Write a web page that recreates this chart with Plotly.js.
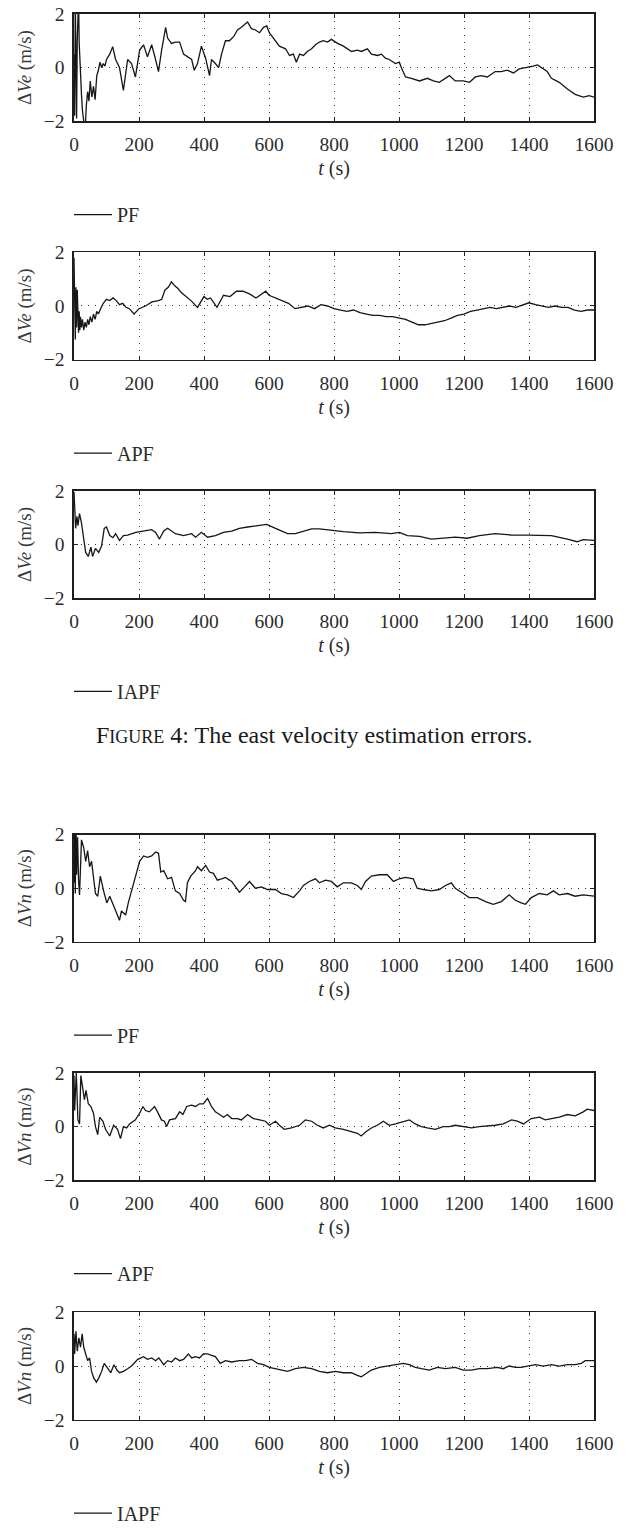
<!DOCTYPE html>
<html>
<head>
<meta charset="utf-8">
<script src="https://cdn.plot.ly/plotly-3.0.1.min.js"></script>
<style>html,body{margin:0;padding:0;background:#fff}</style>
</head>
<body>
<div id="chart" style="width:627px;height:1533px"></div>
<script>
// ---------- data ----------
const methodNames = ['PF', 'APF', 'IAPF'];
const xTicks = [0, 200, 400, 600, 800, 1000, 1200, 1400, 1600];
const yTicks = [-2, 0, 2];
const captionText = 'F<span style="font-size:18px">IGURE</span> 4: The east velocity estimation errors.';

// East velocity error, PF
const tEastPF = [0,2,4,6,8,10,12,14,16,18,20,23,26,30,34,38,42,46,50,55,60,65,70,75,80,85,90,95,100,110,119,128,140,152,165,177,189,202,214,226,239,251,260,269,282,288,300,312,325,337,349,362,370,380,392,405,417,423,435,445,454,466,478,491,503,515,534,546,558,571,583,593,601,620,632,651,663,675,684,694,706,718,731,743,755,767,780,792,811,829,854,872,884,903,915,934,946,958,970,989,1001,1007,1020,1038,1063,1087,1106,1124,1143,1155,1173,1198,1217,1235,1253,1272,1296,1315,1333,1352,1370,1395,1413,1426,1438,1456,1469,1493,1518,1542,1567,1585,1600];
const vEastPF = [0.5,-1.8,2.6,0.8,-1.9,1.0,2.6,2.6,0.9,0.2,-0.5,-1.0,-1.6,-2.4,-2.4,-1.4,-0.9,-1.25,-0.5,-1.1,-0.7,-1.2,-0.3,-0.1,0.2,0.0,0.15,0.05,0.3,0.5,0.78,0.3,0.0,-0.85,0.3,0.15,-0.35,0.65,0.85,0.4,0.85,0.3,-0.15,0.6,1.5,1.1,0.9,0.95,0.95,0.5,0.4,0.3,-0.1,0.15,0.8,0.35,-0.3,0.3,0.15,0.0,0.5,1.0,1.0,1.15,1.4,1.5,1.7,1.45,1.4,1.3,1.5,1.55,1.3,1.0,0.8,0.7,0.45,0.5,0.2,0.5,0.45,0.6,0.7,0.85,0.95,1.0,0.95,1.05,0.9,0.8,0.6,0.65,0.6,0.7,0.5,0.45,0.5,0.35,0.3,0.15,0.2,0.0,-0.35,-0.4,-0.5,-0.4,-0.5,-0.55,-0.4,-0.3,-0.5,-0.5,-0.55,-0.35,-0.3,-0.35,-0.15,-0.15,-0.1,-0.2,-0.05,0.0,0.05,0.1,0.0,-0.15,-0.4,-0.55,-0.8,-1.0,-1.1,-1.05,-1.1];

// East velocity error, APF
const tEastAPF = [0,2,4,6,8,10,12,14,16,18,20,23,26,30,34,38,42,46,50,55,60,65,70,75,80,90,100,110,120,130,140,150,160,170,185,200,220,240,260,270,280,290,300,310,320,330,340,360,380,400,410,420,440,460,480,500,520,540,560,580,590,600,620,640,660,680,700,720,740,760,780,800,820,840,860,880,900,920,940,960,980,1000,1020,1040,1060,1080,1100,1120,1140,1160,1180,1200,1220,1240,1260,1280,1300,1320,1340,1360,1380,1400,1420,1440,1460,1480,1500,1520,1540,1560,1580,1600];
const vEastAPF = [1.8,0.5,-1.25,0.7,-0.8,0.6,-0.5,-1.0,-0.2,-0.9,-0.4,-0.8,-0.5,-0.9,-0.6,-0.8,-0.5,-0.7,-0.4,-0.6,-0.3,-0.5,-0.2,-0.3,-0.15,0.1,0.25,0.2,0.3,0.2,0.05,0.1,-0.05,-0.1,-0.3,-0.1,0.0,0.15,0.2,0.25,0.6,0.7,0.9,0.75,0.65,0.5,0.4,0.2,-0.05,0.35,0.25,0.3,-0.05,0.4,0.35,0.55,0.55,0.45,0.3,0.45,0.55,0.4,0.3,0.2,0.1,-0.1,-0.05,0.0,-0.1,0.05,0.0,-0.1,-0.15,-0.2,-0.15,-0.25,-0.3,-0.35,-0.35,-0.4,-0.4,-0.45,-0.5,-0.6,-0.7,-0.7,-0.65,-0.6,-0.55,-0.45,-0.35,-0.3,-0.2,-0.15,-0.1,-0.05,-0.1,-0.05,0.0,-0.05,0.05,0.12,0.05,0.0,-0.05,0.0,-0.05,-0.05,-0.15,-0.2,-0.15,-0.15];

// East velocity error, IAPF
const tEastIAPF = [0,5,9,12,17,23,30,36,44,52,57,66,76,85,93,100,110,120,128,140,152,165,190,214,239,251,263,276,288,312,337,362,374,392,411,435,460,485,509,534,571,593,620,657,681,706,731,755,792,829,878,927,976,1001,1026,1063,1100,1124,1173,1210,1247,1296,1346,1395,1432,1469,1518,1548,1567,1600];
const vEastIAPF = [1.95,0.6,1.05,0.7,1.15,0.8,0.2,-0.3,-0.45,-0.1,-0.45,-0.15,-0.3,-0.05,0.6,0.65,0.33,0.25,0.4,0.15,0.33,0.35,0.45,0.5,0.55,0.45,0.2,0.5,0.6,0.4,0.33,0.4,0.27,0.45,0.27,0.33,0.45,0.5,0.6,0.65,0.7,0.75,0.6,0.4,0.4,0.5,0.58,0.58,0.52,0.48,0.43,0.45,0.4,0.45,0.33,0.3,0.2,0.23,0.27,0.23,0.33,0.4,0.35,0.35,0.35,0.33,0.2,0.1,0.18,0.15];

// North velocity error, PF
const tNorthPF = [0,2,4,6,8,11,14,17,23,30,36,42,48,54,60,66,73,81,91,101,110,122,134,140,146,159,167,177,189,202,214,226,239,251,260,267,276,288,300,312,325,337,343,349,359,374,380,392,405,417,429,441,454,466,485,497,509,521,540,558,577,595,620,638,657,675,694,706,724,743,755,774,792,810,829,853,872,884,897,915,940,964,983,1001,1020,1044,1056,1075,1100,1124,1143,1161,1173,1198,1216,1241,1266,1290,1315,1339,1358,1376,1389,1407,1432,1456,1475,1493,1518,1542,1567,1600];
const vNorthPF = [0.2,2.5,-0.2,2.5,0.5,1.9,0.3,-0.25,1.8,1.5,1.0,1.4,0.8,1.0,0.4,-0.2,-0.3,0.45,-0.1,-0.55,-0.3,-0.65,-1.0,-1.2,-0.85,-1.0,-0.55,-0.1,0.35,1.0,1.2,1.15,1.2,1.35,1.3,0.6,0.65,0.35,0.4,-0.1,-0.2,-0.45,-0.5,0.2,0.45,0.65,0.8,0.65,0.85,0.6,0.55,0.3,0.35,0.4,0.25,0.05,-0.15,0.0,0.25,0.0,0.05,-0.05,-0.05,-0.2,-0.25,-0.35,-0.1,0.1,0.25,0.35,0.2,0.3,0.25,0.05,0.2,0.2,0.1,-0.05,0.25,0.45,0.5,0.5,0.25,0.35,0.4,0.35,0.0,-0.05,-0.1,-0.05,0.1,0.2,0.0,-0.2,-0.35,-0.35,-0.5,-0.6,-0.5,-0.25,-0.45,-0.55,-0.6,-0.35,-0.2,-0.25,-0.1,-0.25,-0.2,-0.3,-0.25,-0.3];

// North velocity error, APF
const tNorthAPF = [0,2,7,12,17,21,26,32,37,44,52,60,66,73,79,89,97,110,122,134,143,152,162,171,189,202,212,220,232,248,257,269,278,285,294,312,325,335,347,362,374,386,398,411,423,435,448,460,472,485,503,515,534,552,571,589,601,620,632,647,669,694,712,731,749,767,786,804,829,853,872,884,897,915,933,952,970,989,1013,1032,1050,1069,1087,1112,1136,1155,1173,1198,1223,1247,1272,1296,1321,1346,1364,1383,1407,1432,1450,1469,1493,1518,1542,1567,1579,1600];
const vNorthAPF = [1.9,0.6,2.0,0.25,0.1,1.9,1.5,1.0,1.35,0.85,0.75,0.5,0.0,-0.3,0.35,0.2,-0.1,-0.35,0.05,-0.1,-0.45,0.0,-0.05,0.1,0.25,0.5,0.75,0.6,0.55,0.75,0.55,0.25,0.2,0.0,0.25,0.3,0.55,0.45,0.75,0.8,0.75,0.85,0.85,1.05,0.75,0.55,0.45,0.35,0.45,0.3,0.3,0.25,0.45,0.3,0.25,0.2,0.05,0.2,0.05,-0.1,-0.05,0.05,0.25,0.2,0.05,-0.05,0.05,-0.05,-0.1,-0.2,-0.25,-0.35,-0.2,-0.05,0.05,0.2,0.05,0.1,0.2,0.25,0.1,0.0,-0.05,-0.1,0.0,0.0,0.05,0.0,-0.05,0.0,0.02,0.05,0.1,0.25,0.2,0.1,0.3,0.35,0.25,0.3,0.35,0.45,0.4,0.55,0.65,0.6];

// North velocity error, IAPF
const tNorthIAPF = [0,2,6,10,15,20,25,30,36,42,48,54,61,69,76,85,93,103,113,123,132,140,152,165,177,196,214,226,239,251,261,276,288,300,312,325,337,352,362,374,386,398,411,423,435,450,466,485,509,528,546,565,583,601,620,638,657,681,706,731,755,780,804,829,853,872,884,897,915,940,964,989,1013,1032,1050,1069,1093,1118,1143,1173,1198,1223,1247,1272,1302,1321,1339,1358,1376,1395,1420,1444,1469,1493,1518,1542,1561,1573,1600];
const vNorthIAPF = [1.2,0.45,1.3,0.55,1.05,0.7,1.2,0.7,0.45,0.2,0.3,-0.2,-0.45,-0.6,-0.45,-0.2,0.1,-0.1,-0.25,0.05,-0.15,-0.25,-0.2,-0.1,0.0,0.25,0.35,0.25,0.3,0.2,0.3,0.05,0.2,0.15,0.3,0.2,0.25,0.45,0.3,0.35,0.3,0.45,0.45,0.4,0.35,0.1,0.2,0.15,0.2,0.2,0.25,0.1,0.05,-0.05,-0.1,-0.15,-0.2,-0.1,-0.05,-0.1,-0.2,-0.25,-0.2,-0.25,-0.25,-0.35,-0.4,-0.3,-0.15,-0.05,0.0,0.05,0.1,0.05,-0.05,-0.1,-0.15,-0.05,-0.1,-0.05,-0.15,-0.15,-0.1,-0.1,-0.05,-0.1,0.0,-0.05,-0.05,0.0,0.05,0.0,0.05,0.0,0.05,0.05,0.1,0.2,0.2];

// ---------- build figure ----------
const series = [
  {t: tEastPF,   v: vEastPF,   name: methodNames[0], yTitle: '\u0394<i>Ve</i> (m/s)'},
  {t: tEastAPF,  v: vEastAPF,  name: methodNames[1], yTitle: '\u0394<i>Ve</i> (m/s)'},
  {t: tEastIAPF, v: vEastIAPF, name: methodNames[2], yTitle: '\u0394<i>Ve</i> (m/s)'},
  {t: tNorthPF,   v: vNorthPF,   name: methodNames[0], yTitle: '\u0394<i>Vn</i> (m/s)'},
  {t: tNorthAPF,  v: vNorthAPF,  name: methodNames[1], yTitle: '\u0394<i>Vn</i> (m/s)'},
  {t: tNorthIAPF, v: vNorthIAPF, name: methodNames[2], yTitle: '\u0394<i>Vn</i> (m/s)'}
];

const W = 627, H = 1533;
const panelTops = [14, 254, 494, 840, 1080, 1321];
const panelH = 108, plotLeft = 74, plotRight = 594;
const FONT = 'Liberation Serif, Times New Roman, serif';
const inkText = '#2b2b2b';

const data = [];
const layout = {
  width: W, height: H,
  margin: {l: 0, r: 0, t: 0, b: 0},
  paper_bgcolor: '#fff', plot_bgcolor: '#fff',
  font: {family: FONT, size: 19, color: inkText},
  annotations: [],
  showlegend: true
};

series.forEach((s, i) => {
  const n = i + 1;
  const sfx = (n === 1 ? '' : String(n));
  const top = panelTops[i];
  data.push({
    type: 'scatter', mode: 'lines',
    x: s.t, y: s.v, name: s.name,
    xaxis: 'x' + sfx, yaxis: 'y' + sfx,
    legend: 'legend' + sfx,
    line: {color: '#161616', width: 1.3},
    hoverinfo: 'skip'
  });
  const common = {
    showline: true, linecolor: '#1e1e1e', linewidth: 1.6, mirror: 'ticks',
    ticks: 'inside', ticklen: 4, tickwidth: 1, tickcolor: '#222',
    showgrid: true, gridcolor: '#333', griddash: '1px,6px', gridwidth: 1,
    zeroline: false, fixedrange: true,
    tickfont: {family: FONT, size: 19.5, color: inkText}
  };
  layout['xaxis' + sfx] = Object.assign({}, common, {
    domain: [plotLeft / W, plotRight / W],
    anchor: 'y' + sfx,
    range: [0, 1600], tickmode: 'array', tickvals: xTicks, ticktext: xTicks.map(String),
    ticklabelstandoff: 5,
    title: {text: '<i>t</i> (s)', font: {family: FONT, size: 20, color: inkText}, standoff: 7}
  });
  layout['yaxis' + sfx] = Object.assign({}, common, {
    domain: [1 - (top + panelH) / H, 1 - top / H],
    anchor: 'x' + sfx,
    range: [-2, 2], tickmode: 'array', tickvals: yTicks,
    ticklabelstandoff: 4,
    title: {text: s.yTitle, font: {family: FONT, size: 19, color: '#3a3a3a'}, standoff: 7}
  });
  layout['legend' + sfx] = {
    x: (plotLeft - 5) / W, xanchor: 'left',
    y: 1 - (top + 202) / H, yanchor: 'middle',
    bgcolor: 'rgba(0,0,0,0)', borderwidth: 0,
    font: {family: FONT, size: 20, color: inkText},
    itemwidth: 38
  };
});

layout.annotations.push({
  xref: 'paper', yref: 'paper', x: 0.5, y: 1 - 740 / H,
  xanchor: 'center', yanchor: 'middle', showarrow: false,
  text: captionText,
  font: {family: FONT, size: 24, color: '#1a1a1a'}
});

Plotly.newPlot('chart', data, layout, {displayModeBar: false, staticPlot: true});
</script>
</body>
</html>
